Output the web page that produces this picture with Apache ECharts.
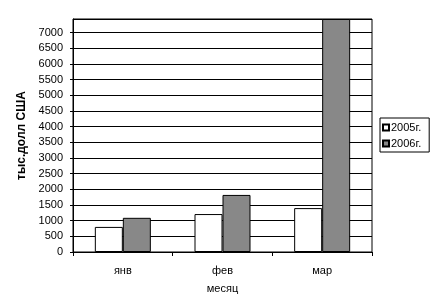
<!DOCTYPE html>
<html><head><meta charset="utf-8">
<script src="https://cdn.jsdelivr.net/npm/echarts@6/dist/echarts.min.js"></script>
<style>html,body{margin:0;padding:0;background:#fff}#c{width:441px;height:308px}</style>
</head><body><div id="c"></div>
<script>
var categories = ['янв', 'фев', 'мар'];
var seriesNames = ['2005г.', '2006г.'];
var values2005 = [800, 1210, 1400];
var values2006 = [1090, 1820, 7430];
var yMin = 0, yMax = 7430, yStep = 500;
var yTitle = 'тыс.долл США';
var xTitle = 'месяц';

var font = 'Arial, "Liberation Sans", sans-serif';
var chart = echarts.init(document.getElementById('c'), null, {renderer: 'canvas'});
chart.setOption({
  animation: false,
  backgroundColor: '#fff',
  grid: {left: 73, right: 69, top: 19, bottom: 56, show: true, borderColor: '#000', borderWidth: 1, containLabel: false},
  legend: {
    orient: 'vertical', left: 380, top: 118,
    data: seriesNames,
    itemWidth: 6, itemHeight: 6, itemGap: 5,
    padding: [4, 8, 3, 2],
    borderColor: '#000', borderWidth: 1,
    textStyle: {fontFamily: font, fontSize: 11, color: '#000', lineHeight: 11, padding: [0, 0, 0, -3]},
    icon: 'rect'
  },
  xAxis: {
    type: 'category', data: categories,
    name: xTitle, nameLocation: 'middle', nameGap: 31,
    nameTextStyle: {fontFamily: font, fontSize: 11, color: '#000'},
    axisLine: {lineStyle: {color: '#000', width: 1}},
    axisTick: {show: true, length: 4, lineStyle: {color: '#000'}},
    axisLabel: {fontFamily: font, fontSize: 11, color: '#000', margin: 13}
  },
  yAxis: {
    type: 'value', min: yMin, max: yMax, interval: yStep,
    name: yTitle, nameLocation: 'middle', nameGap: 45,
    nameTextStyle: {fontFamily: font, fontSize: 12, fontWeight: 'bold', color: '#000'},
    axisLine: {show: true, lineStyle: {color: '#000', width: 1}},
    axisTick: {show: true, length: 3, lineStyle: {color: '#000'}},
    axisLabel: {fontFamily: font, fontSize: 11, color: '#000', margin: 10, showMaxLabel: false,
      formatter: function (v) { return v % yStep === 0 ? String(v) : ''; }},
    splitLine: {show: true, lineStyle: {color: '#000', width: 1}}
  },
  series: [
    {name: seriesNames[0], type: 'bar', data: values2005, barWidth: 28, barGap: '0%', barCategoryGap: '44%',
     itemStyle: {color: '#ffffff', borderColor: '#000', borderWidth: 1}},
    {name: seriesNames[1], type: 'bar', data: values2006, barWidth: 28, barGap: '0%', barCategoryGap: '44%',
     itemStyle: {color: '#888888', borderColor: '#000', borderWidth: 1}}
  ]
});
</script></body></html>
